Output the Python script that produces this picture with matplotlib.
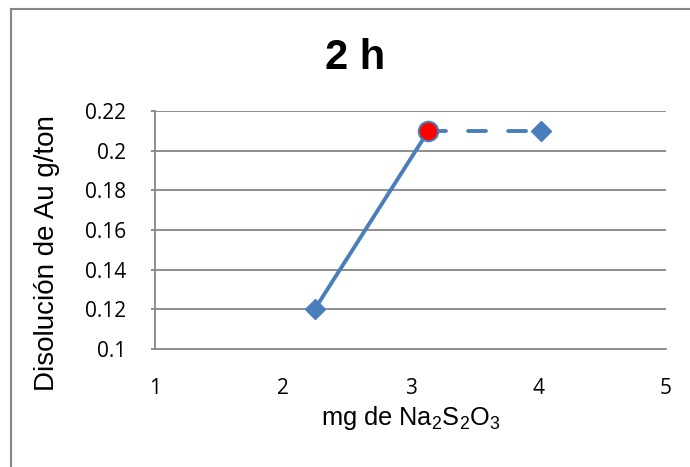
import matplotlib
matplotlib.use('Agg')
import matplotlib.pyplot as plt
from matplotlib.lines import Line2D

# data
x_vals = [2.25, 3.14, 4.02]
y_vals = [0.12, 0.21, 0.21]
x_ticks = [1, 2, 3, 4, 5]
y_ticks = [0.1, 0.12, 0.14, 0.16, 0.18, 0.2, 0.22]
y_tick_labels = ['0.1', '0.12', '0.14', '0.16', '0.18', '0.2', '0.22']

blue = '#4A7EBB'
grey = '#868686'
W, H = 690, 467

fig = plt.figure(figsize=(6.9, 4.67), dpi=100)
ax = fig.add_axes([155/W, 1 - 349/H, (666 - 155)/W, (349 - 111)/H])

ax.set_xlim(1, 5)
ax.set_ylim(0.1, 0.22)
ax.set_yticks(y_ticks)
ax.set_yticklabels(y_tick_labels)
ax.set_xticks(x_ticks)

for y in y_ticks[1:]:
    ax.axhline(y, color=grey, lw=1.3, zorder=1)

# solid part
ax.plot(x_vals[:2], y_vals[:2], color=blue, lw=2.8, solid_capstyle='round', zorder=3)
# dashed part
ax.plot(x_vals[1:], y_vals[1:], color=blue, lw=2.8, dashes=(4.6, 5.7),
        dash_capstyle='round', zorder=3)
ax.plot([x_vals[0], x_vals[2]], [y_vals[0], y_vals[2]], ls='none', marker='D',
        ms=10, color=blue, mec=blue, zorder=4)
ax.plot([x_vals[1]], [y_vals[1]], ls='none', marker='o', ms=14, color='red',
        mec=blue, mew=1.5, zorder=5)

for s in ['top', 'right']:
    ax.spines[s].set_visible(False)
for s in ['left', 'bottom']:
    ax.spines[s].set_color(grey)
    ax.spines[s].set_linewidth(1.3)

ax.tick_params(axis='y', length=3, color=grey, width=1.3, pad=18, labelsize=15)
ax.tick_params(axis='x', length=0, pad=21, labelsize=15)
for lab in ax.get_xticklabels() + ax.get_yticklabels():
    lab.set_family(['Open Sans', 'DejaVu Sans'])

fig.text(47/W, 1 - 253/H, 'Disolución de Au g/ton', rotation=90, ha='center',
         va='center', family='Liberation Sans', fontsize=20)
fig.text(411/W, 1 - 425/H,
         r'mg de Na$\mathregular{_2}$S$\mathregular{_2}$O$\mathregular{_3}$',
         ha='center', va='baseline', family='Liberation Sans', fontsize=18.3)

fig.text(355/W, 1 - 69/H, '2 h', ha='center', va='baseline', fontsize=30,
         fontweight='bold', family='Liberation Sans')

# outer chart frame
fig.add_artist(Line2D([11/W, 1], [1 - 9/H, 1 - 9/H], color=grey, lw=1.5))
fig.add_artist(Line2D([11/W, 11/W], [0, 1 - 9/H], color=grey, lw=1.5))

fig.savefig('out.png', dpi=100)
